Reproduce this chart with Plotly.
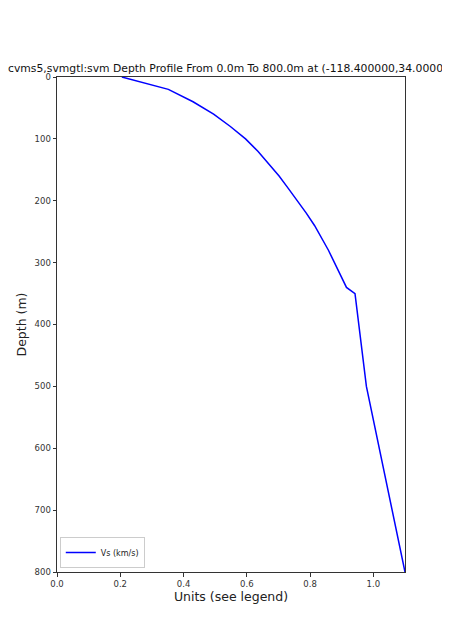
import plotly.graph_objects as go

depth_m = [0, 20, 40, 60, 80, 100, 120, 140, 160, 180, 200, 220, 240, 260, 280, 300, 320, 340, 350, 500, 800]
vs_kms = [0.205, 0.352, 0.43, 0.495, 0.548, 0.596, 0.635, 0.670, 0.702, 0.731, 0.760, 0.788, 0.814, 0.837, 0.858, 0.877, 0.896, 0.915, 0.942, 0.978, 1.10]

title_text = "cvms5,svmgtl:svm Depth Profile From 0.0m To 800.0m at (-118.400000,34.000000)"
font_family = "DejaVu Sans"

# page body has an 8px margin; compensate so the plot lands where the reference has it
OFF = 8
W, H = 450 - OFF, 643 - OFF

fig = go.Figure()
fig.add_trace(go.Scatter(x=vs_kms, y=depth_m, mode="lines", name="Vs (km/s)",
                         line=dict(color="#0000ff", width=1.5)))

fig.update_layout(
    width=W, height=H, autosize=False,
    margin=dict(l=57 - OFF, r=45, t=77 - OFF, b=71),
    paper_bgcolor="white", plot_bgcolor="white",
    font=dict(family=font_family, color="#222222"),
    title=dict(text=title_text, x=0, xref="container", xanchor="left",
               pad=dict(l=0, r=0, t=0, b=0),
               y=1 - (68 - OFF) / H, yref="container", yanchor="middle",
               font=dict(size=10.8, color="#111111", family=font_family)),
    showlegend=True,
    legend=dict(x=0.008, y=0.008, xanchor="left", yanchor="bottom",
                bgcolor="white", bordercolor="#cccccc", borderwidth=1,
                font=dict(size=8, family=font_family, color="#222222"),
                itemwidth=30, tracegroupgap=0),
)
fig.update_xaxes(range=[0, 1.1], tick0=0, dtick=0.2, tickformat=".1f",
                 showgrid=False, zeroline=False, showline=True, linecolor="#333333",
                 linewidth=1, mirror=True, ticks="outside", ticklen=3.5, tickcolor="#333333",
                 tickfont=dict(size=8.5, family=font_family, color="#333333"),
                 title=dict(text="Units (see legend)", standoff=4,
                            font=dict(size=12.5, family=font_family, color="#222222")))
fig.update_yaxes(range=[800, 0], tick0=0, dtick=100,
                 showgrid=False, zeroline=False, showline=True, linecolor="#333333",
                 linewidth=1, mirror=True, ticks="outside", ticklen=3.5, tickcolor="#333333",
                 tickfont=dict(size=8.5, family=font_family, color="#333333"),
                 title=dict(text="Depth (m)", standoff=5,
                            font=dict(size=12.5, family=font_family, color="#222222")))

fig.write_html("out.html")
